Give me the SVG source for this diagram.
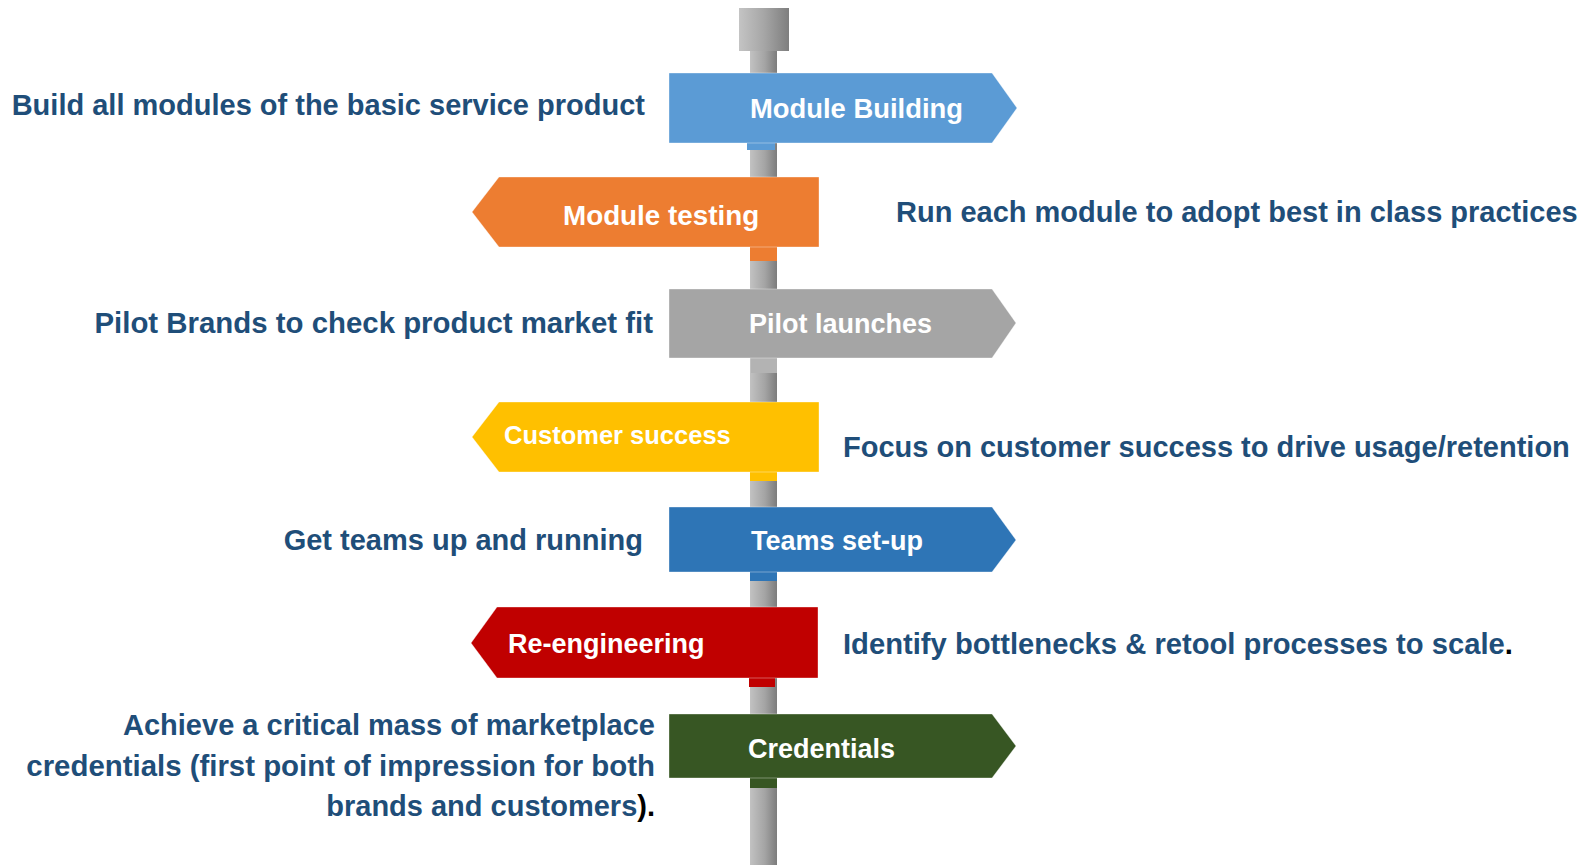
<svg xmlns="http://www.w3.org/2000/svg" width="1591" height="865" viewBox="0 0 1591 865">
<defs>
<linearGradient id="poleGrad" x1="0" y1="0" x2="1" y2="0">
<stop offset="0" stop-color="#c2c2c2"/>
<stop offset="0.55" stop-color="#a4a4a4"/>
<stop offset="1" stop-color="#7c7c7c"/>
</linearGradient>
<linearGradient id="capGrad" x1="0" y1="0" x2="1" y2="0">
<stop offset="0" stop-color="#c4c4c4"/>
<stop offset="0.5" stop-color="#a6a6a6"/>
<stop offset="1" stop-color="#7e7e7e"/>
</linearGradient>
</defs>
<style>
.lbl{font-family:"Liberation Sans",Arial,sans-serif;font-weight:bold;font-size:27px;fill:#ffffff}
.desc{font-family:"Liberation Sans",Arial,sans-serif;font-weight:bold;font-size:29px;fill:#1f4e79}
.blk{fill:#000000}
.sign{stroke:#ffffff;stroke-opacity:0.35;stroke-width:1}
</style>
<rect width="1591" height="865" fill="#ffffff"/>
<g id="post">
<rect x="750" y="50" width="27" height="815" fill="url(#poleGrad)"/>
<rect x="739" y="8" width="50" height="43" fill="url(#capGrad)"/>
</g>
<g id="connectors"/>
<g id="module-building">
<rect x="747" y="140" width="28" height="10" fill="#5b9bd5"/>
<polygon class="sign" points="669,73 992,73 1017,108 992,143 669,143" fill="#5b9bd5"/>
<text class="lbl" x="750" y="118" style="font-size:27.4px">Module Building</text>
<text class="desc" x="645" y="115" text-anchor="end">Build all modules of the basic service product</text>
</g>
<g id="module-testing">
<rect x="750" y="244" width="27" height="17" fill="#ed7d31"/>
<polygon class="sign" points="472,212 499,177 819,177 819,247 499,247" fill="#ed7d31"/>
<text class="lbl" x="563" y="225" style="font-size:27.8px">Module testing</text>
<text class="desc" x="896" y="222">Run each module to adopt best in class practices</text>
</g>
<g id="pilot-launches">
<rect x="751" y="355" width="26" height="18" fill="#b3b3b3"/>
<polygon class="sign" points="669,289 992,289 1016,323 992,358 669,358" fill="#a5a5a5"/>
<text class="lbl" x="749" y="333">Pilot launches</text>
<text class="desc" x="653" y="333" text-anchor="end" style="font-size:29.4px">Pilot Brands to check product market fit</text>
</g>
<g id="customer-success">
<rect x="750" y="469" width="27" height="12" fill="#ffc000"/>
<polygon class="sign" points="472,437 499,402 819,402 819,472 499,472" fill="#ffc000"/>
<text class="lbl" x="504" y="444" style="font-size:25.5px">Customer success</text>
<text class="desc" x="843" y="457">Focus on customer success to drive usage/retention</text>
</g>
<g id="teams-setup">
<rect x="750" y="569" width="27" height="12" fill="#2e75b6"/>
<polygon class="sign" points="669,507 992,507 1016,540 992,572 669,572" fill="#2e75b6"/>
<text class="lbl" x="751" y="550">Teams set-up</text>
<text class="desc" x="643" y="550" text-anchor="end">Get teams up and running</text>
</g>
<g id="re-engineering">
<rect x="749" y="675" width="26" height="12" fill="#c00000"/>
<polygon class="sign" points="471,643 497,607 818,607 818,678 497,678" fill="#c00000"/>
<text class="lbl" x="508" y="653">Re-engineering</text>
<text class="desc" x="843" y="654" style="font-size:29.2px">Identify bottlenecks &amp; retool processes to scale<tspan class="blk">.</tspan></text>
</g>
<g id="credentials">
<rect x="750" y="775" width="27" height="13" fill="#375623"/>
<polygon class="sign" points="669,714 992,714 1016,746 992,778 669,778" fill="#375623"/>
<text class="lbl" x="748" y="758">Credentials</text>
<text class="desc" text-anchor="end"><tspan x="655" y="735">Achieve a critical mass of marketplace</tspan><tspan x="655" y="776" style="font-size:29.4px">credentials (first point of impression for both</tspan><tspan x="655" y="816">brands and customers<tspan class="blk">).</tspan></tspan></text>
</g>
</svg>
